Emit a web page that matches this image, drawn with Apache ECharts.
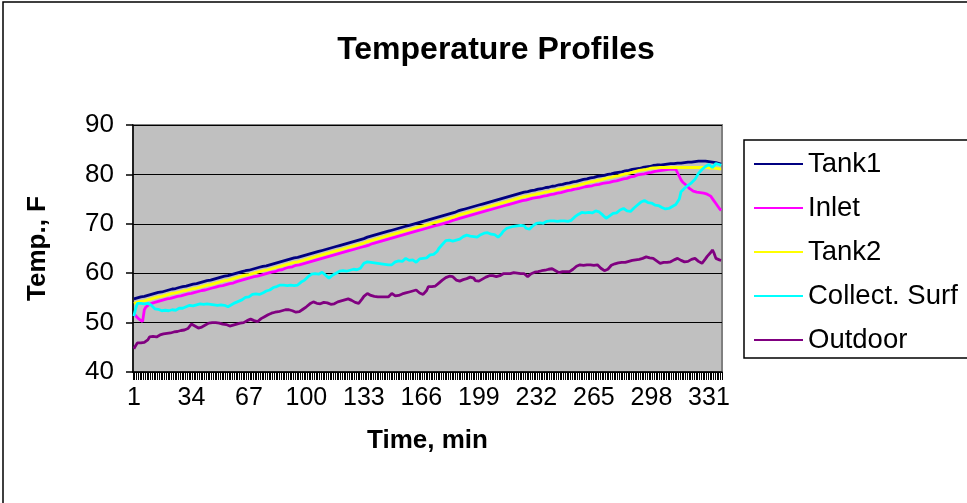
<!DOCTYPE html>
<html><head><meta charset="utf-8">
<script src="https://cdn.jsdelivr.net/npm/echarts@6/dist/echarts.min.js"></script>
<style>html,body{margin:0;padding:0;background:#fff}#c{width:967px;height:503px}</style>
</head><body><div id="c"></div>
<script>
// Category labels: minutes 1..338
var categories = [];
for (var k = 1; k <= 338; k++) categories.push(String(k));

var seriesNames = ["Tank1", "Inlet", "Tank2", "Collect. Surf", "Outdoor"];
var yTicks = [40, 50, 60, 70, 80, 90];

var tank1 = [
54.8,54.8,55.0,55.0,55.2,55.2,55.3,55.4,55.5,55.6,
55.7,55.7,55.9,55.9,56.1,56.1,56.2,56.3,56.4,56.5,
56.6,56.6,56.8,56.8,56.9,57.0,57.1,57.1,57.3,57.3,
57.4,57.5,57.6,57.6,57.8,57.8,57.9,58.0,58.1,58.2,
58.3,58.3,58.5,58.5,58.6,58.7,58.8,58.9,59.0,59.1,
59.2,59.2,59.4,59.4,59.5,59.6,59.7,59.7,59.9,60.0,
60.1,60.1,60.3,60.3,60.5,60.5,60.6,60.7,60.8,60.9,
61.0,61.0,61.2,61.2,61.4,61.4,61.5,61.6,61.7,61.8,
61.9,61.9,62.1,62.2,62.3,62.3,62.5,62.6,62.7,62.8,
62.9,62.9,63.1,63.2,63.2,63.3,63.4,63.5,63.6,63.7,
63.8,63.9,64.0,64.1,64.2,64.3,64.4,64.5,64.6,64.7,
64.8,64.9,65.0,65.1,65.2,65.3,65.4,65.5,65.6,65.7,
65.8,65.9,66.0,66.1,66.2,66.3,66.4,66.5,66.6,66.7,
66.8,66.9,67.0,67.1,67.3,67.3,67.5,67.6,67.7,67.8,
67.9,68.0,68.1,68.2,68.3,68.4,68.5,68.6,68.7,68.8,
68.9,69.0,69.1,69.2,69.3,69.4,69.5,69.6,69.7,69.8,
69.9,70.0,70.1,70.2,70.3,70.4,70.5,70.6,70.7,70.8,
70.9,71.0,71.1,71.2,71.3,71.4,71.5,71.6,71.7,71.8,
71.9,72.0,72.1,72.3,72.3,72.5,72.6,72.7,72.8,72.9,
73.0,73.1,73.2,73.3,73.4,73.5,73.6,73.7,73.8,73.9,
74.0,74.1,74.2,74.3,74.4,74.5,74.6,74.7,74.8,74.9,
75.0,75.1,75.2,75.3,75.4,75.5,75.6,75.7,75.8,75.9,
76.0,76.1,76.2,76.3,76.4,76.4,76.5,76.6,76.7,76.8,
76.8,76.9,77.0,77.0,77.1,77.2,77.3,77.3,77.4,77.5,
77.6,77.6,77.7,77.8,77.9,77.9,78.0,78.1,78.2,78.3,
78.3,78.4,78.5,78.6,78.6,78.7,78.8,78.9,79.0,79.1,
79.1,79.2,79.3,79.3,79.4,79.5,79.6,79.6,79.7,79.8,
79.8,79.9,80.0,80.0,80.1,80.2,80.3,80.3,80.4,80.5,
80.5,80.6,80.7,80.7,80.8,80.9,81.0,81.0,81.1,81.2,
81.2,81.3,81.4,81.4,81.5,81.6,81.6,81.7,81.8,81.8,
81.9,81.9,81.9,82.0,82.0,82.0,82.1,82.1,82.2,82.2,
82.2,82.2,82.3,82.3,82.3,82.4,82.4,82.4,82.5,82.5,
82.5,82.6,82.6,82.6,82.7,82.7,82.7,82.7,82.7,82.7,
82.6,82.6,82.5,82.5,82.4,82.3,82.2,82.1
];

var inlet = [
51.9,51.4,51.0,50.7,50.4,50.2,52.6,53.2,53.5,53.7,
54.0,54.0,54.2,54.2,54.4,54.4,54.5,54.6,54.7,54.8,
54.9,54.9,55.1,55.1,55.2,55.3,55.4,55.4,55.6,55.6,
55.7,55.8,55.9,55.9,56.1,56.1,56.2,56.3,56.4,56.5,
56.6,56.6,56.8,56.8,56.9,57.0,57.1,57.2,57.3,57.4,
57.5,57.5,57.7,57.7,57.8,57.9,58.0,58.0,58.2,58.3,
58.5,58.5,58.7,58.7,58.9,58.9,59.0,59.1,59.2,59.3,
59.4,59.4,59.6,59.6,59.8,59.8,59.9,60.0,60.1,60.2,
60.3,60.3,60.5,60.6,60.7,60.7,60.9,61.0,61.1,61.2,
61.3,61.3,61.5,61.6,61.6,61.7,61.8,61.9,62.0,62.1,
62.2,62.3,62.4,62.5,62.6,62.7,62.8,62.9,63.0,63.1,
63.2,63.3,63.4,63.5,63.6,63.7,63.8,63.9,64.0,64.1,
64.2,64.3,64.4,64.5,64.6,64.7,64.8,64.9,65.0,65.1,
65.2,65.3,65.4,65.5,65.7,65.7,65.9,66.0,66.1,66.2,
66.3,66.4,66.5,66.6,66.7,66.8,66.9,67.0,67.1,67.2,
67.3,67.4,67.5,67.6,67.7,67.8,67.9,68.0,68.1,68.2,
68.3,68.4,68.5,68.6,68.7,68.8,68.9,69.0,69.1,69.2,
69.3,69.4,69.5,69.6,69.7,69.8,69.9,70.0,70.1,70.2,
70.3,70.4,70.5,70.7,70.7,70.9,71.0,71.1,71.2,71.3,
71.4,71.5,71.6,71.7,71.8,71.9,72.0,72.1,72.2,72.3,
72.4,72.5,72.6,72.7,72.8,72.9,73.0,73.1,73.2,73.3,
73.4,73.5,73.6,73.7,73.8,73.9,74.0,74.1,74.2,74.3,
74.4,74.5,74.6,74.7,74.8,74.8,74.9,75.0,75.1,75.2,
75.2,75.3,75.4,75.4,75.5,75.6,75.7,75.7,75.8,75.9,
76.0,76.0,76.1,76.2,76.3,76.3,76.4,76.5,76.6,76.7,
76.7,76.8,76.9,77.0,77.0,77.1,77.2,77.3,77.4,77.5,
77.5,77.6,77.7,77.7,77.8,77.9,78.0,78.0,78.1,78.2,
78.2,78.3,78.4,78.4,78.5,78.6,78.7,78.7,78.8,78.9,
79.0,79.1,79.2,79.2,79.4,79.5,79.6,79.6,79.8,79.9,
79.9,80.0,80.1,80.1,80.2,80.3,80.4,80.4,80.5,80.6,
80.7,80.7,80.8,80.8,80.9,80.9,81.0,81.0,81.0,81.0,
81.0,81.0,80.6,79.6,78.9,78.4,78.1,77.8,77.4,77.1,
76.8,76.6,76.5,76.4,76.4,76.3,76.3,76.2,76.1,76.0,
75.9,75.6,75.1,74.6,74.1,73.6,73.1,72.7
];

var tank2 = [
53.9,53.9,54.1,54.1,54.3,54.3,54.4,54.5,54.6,54.7,
54.8,54.8,55.0,55.0,55.2,55.2,55.3,55.4,55.5,55.6,
55.7,55.7,55.9,55.9,56.0,56.1,56.2,56.2,56.4,56.4,
56.5,56.6,56.7,56.7,56.9,56.9,57.0,57.1,57.2,57.3,
57.4,57.4,57.6,57.6,57.7,57.8,57.9,58.0,58.1,58.2,
58.3,58.3,58.5,58.5,58.6,58.7,58.8,58.8,59.0,59.1,
59.2,59.2,59.4,59.4,59.6,59.6,59.7,59.8,59.9,60.0,
60.1,60.1,60.3,60.3,60.5,60.5,60.6,60.7,60.8,60.9,
61.0,61.0,61.2,61.3,61.4,61.4,61.6,61.7,61.8,61.9,
62.0,62.0,62.2,62.3,62.3,62.4,62.5,62.6,62.7,62.8,
62.9,63.0,63.1,63.2,63.3,63.4,63.5,63.6,63.7,63.8,
63.9,64.0,64.1,64.2,64.3,64.4,64.5,64.6,64.7,64.8,
64.9,65.0,65.1,65.2,65.3,65.4,65.5,65.6,65.7,65.8,
65.9,66.0,66.1,66.2,66.4,66.4,66.6,66.7,66.8,66.9,
67.0,67.1,67.2,67.3,67.4,67.5,67.6,67.7,67.8,67.9,
68.0,68.1,68.2,68.3,68.4,68.5,68.6,68.7,68.8,68.9,
69.0,69.1,69.2,69.3,69.4,69.5,69.6,69.7,69.8,69.9,
70.0,70.1,70.2,70.3,70.4,70.5,70.6,70.7,70.8,70.9,
71.0,71.1,71.2,71.4,71.4,71.6,71.7,71.8,71.9,72.0,
72.1,72.2,72.3,72.4,72.5,72.6,72.7,72.8,72.9,73.0,
73.1,73.2,73.3,73.4,73.5,73.6,73.7,73.8,73.9,74.0,
74.1,74.2,74.3,74.4,74.5,74.6,74.7,74.8,74.9,75.0,
75.1,75.2,75.3,75.4,75.5,75.5,75.6,75.7,75.8,75.9,
75.9,76.0,76.1,76.1,76.2,76.3,76.4,76.4,76.5,76.6,
76.7,76.7,76.8,76.9,77.0,77.0,77.1,77.2,77.3,77.4,
77.4,77.5,77.6,77.7,77.7,77.8,77.9,78.0,78.1,78.2,
78.3,78.4,78.5,78.5,78.6,78.7,78.8,78.8,78.9,79.0,
79.1,79.2,79.3,79.3,79.4,79.5,79.6,79.6,79.7,79.8,
79.9,80.0,80.1,80.1,80.2,80.3,80.4,80.5,80.6,80.7,
80.8,80.8,80.9,81.0,81.0,81.1,81.2,81.2,81.3,81.3,
81.3,81.3,81.4,81.4,81.4,81.4,81.4,81.4,81.4,81.4,
81.4,81.4,81.4,81.4,81.4,81.4,81.4,81.4,81.4,81.4,
81.4,81.4,81.4,81.4,81.4,81.4,81.4,81.4,81.4,81.3,
81.3,81.3,81.3,81.2,81.2,81.2,81.1,81.1
];

var collectSurf = [
51.3,52.8,53.9,54.0,53.9,54.0,53.8,53.9,53.9,53.7,
53.5,53.1,52.8,52.5,52.7,52.6,52.4,52.6,52.5,52.6,
52.4,52.5,52.6,52.4,52.5,52.6,52.9,53.0,52.9,53.1,
53.2,53.3,53.5,53.6,53.4,53.7,53.6,53.5,53.8,53.6,
53.7,53.5,53.8,53.6,53.7,53.9,53.6,53.8,53.5,53.7,
53.6,53.4,53.5,53.3,53.2,53.4,53.6,53.9,54.0,54.1,
54.3,54.2,54.6,54.9,55.1,55.3,55.2,55.5,55.7,55.6,
55.8,56.0,55.7,55.9,56.0,56.2,56.4,56.7,56.6,57.0,
57.1,56.9,57.3,57.5,57.6,57.4,57.6,57.8,57.5,57.7,
57.6,57.8,57.5,57.7,57.6,58.0,58.2,58.3,58.6,59.0,
59.3,59.6,59.8,59.7,59.9,60.0,59.8,60.1,60.2,60.0,
59.6,59.2,59.0,59.3,59.6,59.8,60.0,60.2,60.4,60.3,
60.5,60.6,60.4,60.7,60.6,60.5,60.8,60.6,60.7,60.6,
61.0,61.5,62.0,62.2,62.3,62.1,62.2,61.9,62.1,62.0,
62.0,62.2,61.9,62.1,61.8,62.0,61.7,61.9,61.7,62.0,
62.3,62.1,62.5,62.7,62.4,62.8,63.0,63.0,62.6,62.9,
62.7,62.5,62.2,62.6,62.9,63.2,63.0,63.3,63.1,63.5,
63.7,63.9,63.8,64.0,64.4,65.0,65.4,65.8,66.2,66.6,
66.9,66.7,66.8,66.5,66.9,66.7,66.6,66.9,67.2,67.4,
67.3,67.7,67.7,67.5,67.6,67.4,67.2,67.3,67.6,67.8,
67.9,68.1,68.0,68.2,68.0,67.9,68.1,67.8,67.5,67.3,
67.6,68.0,68.5,68.8,69.1,69.0,69.3,69.2,69.5,69.4,
69.6,69.4,69.7,69.6,69.6,69.1,68.7,68.9,69.3,69.6,
69.9,70.1,69.9,70.2,70.3,70.1,70.4,70.5,70.3,70.6,
70.8,70.6,70.7,70.5,70.8,70.6,70.4,70.6,70.3,70.5,
70.4,70.7,71.0,71.4,71.7,71.9,72.1,72.3,72.4,72.2,
72.4,72.3,72.5,72.2,72.4,72.6,72.3,72.4,72.2,71.8,
71.4,71.1,71.3,71.6,71.9,72.1,72.3,72.2,72.6,72.8,
73.0,73.1,72.9,72.6,72.4,72.5,72.8,73.2,73.5,73.8,
74.1,74.4,74.6,74.7,74.5,74.3,74.5,74.2,74.0,73.8,
73.6,73.7,73.5,73.3,73.1,73.0,72.9,73.1,73.3,73.5,
73.7,73.9,74.0,75.0,76.5,76.9,77.2,77.5,77.8,78.1,
78.3,78.5,79.0,79.6,80.2,80.6,81.0,81.3,81.6,81.8,
82.0,81.6,81.4,81.8,82.2,82.4,82.0,81.8
];

var outdoor = [
44.7,45.3,45.9,45.8,45.9,45.9,46.0,45.9,46.5,47.1,
47.0,47.2,47.1,47.1,47.3,47.5,47.6,47.7,47.6,47.8,
48.0,47.9,48.2,48.1,48.3,48.2,48.3,48.4,48.3,48.5,
48.7,48.8,49.2,49.7,49.5,49.3,49.0,48.9,48.8,49.1,
49.3,49.5,49.8,49.9,50.0,50.0,49.9,50.0,49.8,49.9,
49.7,49.7,49.5,49.6,49.4,49.3,49.4,49.5,49.6,49.7,
49.8,49.9,50.0,50.0,50.2,50.4,50.6,50.7,50.6,50.4,
50.3,50.2,50.5,50.8,51.1,51.2,51.4,51.6,51.8,51.9,
52.0,52.1,52.0,52.2,52.3,52.4,52.5,52.6,52.7,52.6,
52.5,52.4,52.2,52.1,52.0,52.2,52.5,52.7,52.9,53.2,
53.5,53.8,54.0,54.2,54.0,53.9,53.8,53.8,54.0,54.1,
54.2,54.0,53.8,53.7,53.6,53.8,54.0,54.2,54.3,54.4,
54.5,54.6,54.7,54.8,54.6,54.5,54.3,54.1,54.0,53.9,
54.3,54.8,55.3,55.7,55.9,55.7,55.5,55.4,55.3,55.2,
55.2,55.3,55.2,55.3,55.2,55.3,55.2,55.5,55.9,55.6,
55.4,55.3,55.5,55.6,55.8,55.9,56.0,56.1,56.2,56.3,
56.4,56.5,56.6,56.3,56.0,55.8,55.7,55.6,56.5,57.3,
57.4,57.3,57.4,57.4,57.7,58.0,58.3,58.6,58.9,59.1,
59.3,59.4,59.3,59.3,59.0,58.6,58.3,58.4,58.6,58.7,
58.8,58.9,59.1,59.2,59.3,59.0,58.5,58.1,58.4,58.6,
58.8,59.0,59.2,59.3,59.5,59.6,59.5,59.4,59.3,59.3,
59.5,59.7,59.9,60.0,59.9,60.0,59.9,60.0,60.1,59.9,
60.0,59.8,59.9,60.0,59.9,59.6,59.3,59.6,59.9,60.1,
60.2,60.3,60.3,60.4,60.5,60.5,60.6,60.7,60.8,60.8,
60.9,60.7,60.5,60.3,60.1,60.2,60.3,60.2,60.3,60.3,
60.3,60.5,60.8,61.1,61.4,61.6,61.7,61.7,61.6,61.7,
61.7,61.6,61.7,61.7,61.6,61.7,61.7,61.4,61.0,60.7,
60.5,60.5,60.8,61.2,61.6,61.9,61.9,62.0,62.1,62.2,
62.2,62.3,62.2,62.3,62.4,62.5,62.6,62.6,62.7,62.7,
62.8,62.9,63.0,63.2,63.3,63.2,63.1,63.0,63.0,62.8,
62.5,62.2,62.0,62.1,62.2,62.3,62.2,62.3,62.3,62.5,
62.7,62.9,63.0,62.8,62.6,62.4,62.3,62.2,62.4,62.6,
62.8,63.0,63.0,62.7,62.4,62.1,62.0,62.4,62.9,63.4,
63.8,64.2,64.7,64.0,63.0,62.9,62.7,62.6
];

var colors = ["#000080", "#FF00FF", "#FFFF00", "#00FFFF", "#800080"];
var values = [tank1, inlet, tank2, collectSurf, outdoor];
var FONT = "Liberation Sans, Arial, sans-serif";

var chart = echarts.init(document.getElementById('c'), null, {renderer: 'canvas'});
var series = seriesNames.map(function (n, i) {
  return {
    name: n, type: 'line', data: values[i], symbol: 'none', showSymbol: false,
    lineStyle: {color: colors[i], width: 2.8}, itemStyle: {color: colors[i]},
    animation: false
  };
});

chart.setOption({
  animation: false,
  textStyle: {fontFamily: FONT, color: '#000'},
  title: {
    text: 'Temperature Profiles', left: 491, top: 29, textAlign: 'center',
    textStyle: {fontFamily: FONT, fontWeight: 'bold', fontSize: 32, color: '#000'}
  },
  graphic: [
    {type: 'rect', shape: {x: 3, y: 2, width: 1000, height: 520}, style: {fill: 'none', stroke: '#000', lineWidth: 1.5}, z: -10},
    {type: 'rect', shape: {x: 744, y: 140, width: 300, height: 218}, style: {fill: '#fff', stroke: '#000', lineWidth: 1.5}, z: 0}
  ],
  legend: {
    orient: 'vertical', left: 754, top: 149, z: 10,
    itemWidth: 49, itemHeight: 30, itemGap: 14, padding: 0,
    icon: 'path://M0,14 L49,14 L49,16 L0,16 Z',
    data: seriesNames,
    textStyle: {fontFamily: FONT, fontSize: 27.5, color: '#000', lineHeight: 30}
  },
  grid: {
    left: 133, right: 245, top: 125, bottom: 131,
    show: true, backgroundColor: '#C0C0C0', borderColor: '#808080', borderWidth: 2
  },
  xAxis: {
    type: 'category', data: categories, boundaryGap: true,
    name: 'Time, min', nameLocation: 'middle', nameGap: 56,
    nameTextStyle: {fontFamily: FONT, fontWeight: 'bold', fontSize: 26, color: '#000'},
    axisLine: {lineStyle: {color: '#000', width: 1.5}},
    axisTick: {show: true, interval: 0, length: 8, lineStyle: {color: '#000', width: 1}},
    axisLabel: {interval: 32, margin: 14, fontFamily: FONT, fontSize: 25, color: '#000'},
    splitLine: {show: false}
  },
  yAxis: {
    type: 'value', min: yTicks[0], max: yTicks[yTicks.length - 1], interval: 10,
    name: 'Temp., F', nameLocation: 'middle', nameGap: 82, nameRotate: 90,
    nameTextStyle: {fontFamily: FONT, fontWeight: 'bold', fontSize: 26, color: '#000'},
    axisLine: {show: true, lineStyle: {color: '#000', width: 1.5}},
    axisTick: {show: true, length: 7, lineStyle: {color: '#000', width: 1.5}},
    axisLabel: {margin: 19, fontFamily: FONT, fontSize: 26, color: '#000'},
    splitLine: {show: true, lineStyle: {color: '#000', width: 1.2}}
  },
  series: series
});
</script>
</body></html>
